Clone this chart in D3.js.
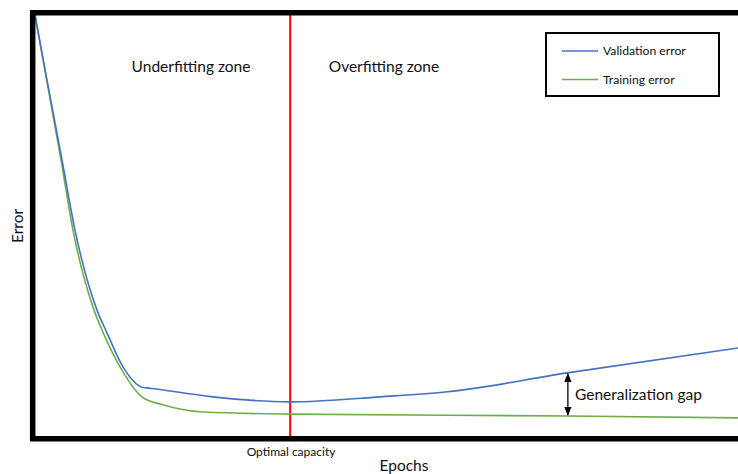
<!DOCTYPE html>
<html>
<head>
<meta charset="utf-8">
<script src="https://cdn.jsdelivr.net/npm/d3@7"></script>
<style>
  html, body { margin: 0; padding: 0; background: #fff; }
  svg { display: block; font-family: Lato, "Open Sans", sans-serif; }
</style>
</head>
<body>
<div id="chart"></div>
<script>
// epochs (0-100) and error (0-100)
const validationEpochs = [0, 1.7, 3.84, 5.69, 8.82, 10.24, 12.52, 15.22, 16.6, 25.3, 36.3, 49.1, 58.7, 75.7, 100];
const validationError  = [100, 84.6, 65.6, 48.9, 29.9, 24.5, 16.4, 11.6, 11.3, 9.3, 8.1, 9.3, 10.5, 15.0, 20.9];
const trainingEpochs   = [0, 3.7, 5.4, 8.4, 9.7, 12.1, 15.2, 18.2, 23.9, 36.3, 75.8, 100];
const trainingError    = [100, 65.6, 48.9, 29.9, 24.5, 16.4, 9.3, 7.4, 5.7, 5.2, 4.75, 4.3];
const optimalEpoch = 36.3;
const gapEpoch = 75.8;
const zoneLabels = ["Underfitting zone", "Overfitting zone"];
const legendLabels = ["Validation error", "Training error"];
const seriesColors = ["#4472C4", "#70AD47"];

const W = 738, H = 474;

const svg = d3.select("#chart").append("svg")
  .attr("width", W).attr("height", H);

const x = d3.scaleLinear().domain([0, 100]).range([35, 738]);
const y = d3.scaleLinear().domain([0, 100]).range([436, 15]);

const valData = validationEpochs.map((e, i) => ({ e, v: validationError[i] }));
const trnData = trainingEpochs.map((e, i) => ({ e, v: trainingError[i] }));

// red optimal-capacity line
svg.append("line")
  .attr("x1", x(optimalEpoch)).attr("x2", x(optimalEpoch))
  .attr("y1", 13).attr("y2", 438)
  .attr("stroke", "#FF0000").attr("stroke-width", 2);

const lineSmooth = d3.line().x(d => x(d.e)).y(d => y(d.v)).curve(d3.curveMonotoneX);

svg.append("path").datum(trnData)
  .attr("d", lineSmooth)
  .attr("fill", "none").attr("stroke", seriesColors[1]).attr("stroke-width", 1.6);

svg.append("path").datum(valData)
  .attr("d", lineSmooth)
  .attr("fill", "none").attr("stroke", seriesColors[0]).attr("stroke-width", 1.6);

// axes (no ticks)
svg.append("g")
  .attr("transform", `translate(32.7,0)`)
  .call(d3.axisLeft(y).tickValues([]).tickSizeOuter(0))
  .call(g => g.select(".domain").attr("stroke", "#000").attr("stroke-width", 5.5)
    .attr("d", "M0,10V441"));
svg.append("g")
  .attr("transform", `translate(0,438.7)`)
  .call(d3.axisBottom(x).tickValues([]).tickSizeOuter(0))
  .call(g => g.select(".domain").attr("stroke", "#000").attr("stroke-width", 5.5)
    .attr("d", "M30,0H738"));
svg.append("line")
  .attr("x1", 30).attr("x2", 738).attr("y1", 12.8).attr("y2", 12.8)
  .attr("stroke", "#000").attr("stroke-width", 5.5);

// zone labels
svg.append("text").attr("x", 191).attr("y", 72).attr("text-anchor", "middle")
  .attr("font-size", 15.5).attr("fill", "#111").text(zoneLabels[0]);
svg.append("text").attr("x", 384).attr("y", 72).attr("text-anchor", "middle")
  .attr("font-size", 15.5).attr("fill", "#111").text(zoneLabels[1]);

// legend
const lg = svg.append("g");
lg.append("rect").attr("x", 546).attr("y", 33).attr("width", 173).attr("height", 63)
  .attr("fill", "#fff").attr("stroke", "#000").attr("stroke-width", 2);
legendLabels.forEach((lab, i) => {
  const ly = 51 + i * 28.5;
  lg.append("line").attr("x1", 562).attr("x2", 598).attr("y1", ly).attr("y2", ly)
    .attr("stroke", seriesColors[i]).attr("stroke-width", 1.6);
  lg.append("text").attr("x", 603).attr("y", ly + 4).attr("font-size", 12.2)
    .attr("fill", "#111").text(lab);
});

// generalization gap arrow
const defs = svg.append("defs");
defs.append("marker").attr("id", "ah").attr("viewBox", "0 0 10 10")
  .attr("refX", 9).attr("refY", 5).attr("markerWidth", 7).attr("markerHeight", 7)
  .attr("orient", "auto-start-reverse")
  .append("path").attr("d", "M0,1L10,5L0,9z").attr("fill", "#000");
const gapTop = d3.scaleLinear().domain(validationEpochs).range(validationError.map(v => y(v)))(gapEpoch);
const gapBot = d3.scaleLinear().domain(trainingEpochs).range(trainingError.map(v => y(v)))(gapEpoch);
svg.append("line")
  .attr("x1", x(gapEpoch)).attr("x2", x(gapEpoch))
  .attr("y1", gapTop + 1).attr("y2", gapBot - 1)
  .attr("stroke", "#000").attr("stroke-width", 1.3)
  .attr("marker-start", "url(#ah)").attr("marker-end", "url(#ah)");
svg.append("text").attr("x", 575).attr("y", 400).attr("font-size", 15.5)
  .attr("fill", "#111").text("Generalization gap");

// axis labels
svg.append("text").attr("x", 291).attr("y", 456).attr("text-anchor", "middle")
  .attr("font-size", 12).attr("fill", "#111").text("Optimal capacity");
svg.append("text").attr("x", 404).attr("y", 471).attr("text-anchor", "middle")
  .attr("font-size", 15.5).attr("fill", "#111").text("Epochs");
svg.append("text").attr("transform", "translate(23,226) rotate(-90)")
  .attr("text-anchor", "middle").attr("font-size", 15.5).attr("fill", "#111").text("Error");
</script>
</body>
</html>
